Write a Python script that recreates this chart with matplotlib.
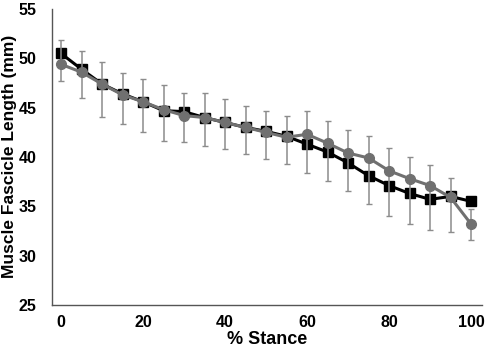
import numpy as np
import matplotlib
matplotlib.use("Agg")
import matplotlib.pyplot as plt

plt.rcParams["font.family"] = ["Liberation Sans", "DejaVu Sans"]

stance = [0, 5, 10, 15, 20, 25, 30, 35, 40, 45, 50, 55, 60, 65, 70, 75, 80, 85, 90, 95, 100]
black_series = [50.5, 48.9, 47.4, 46.4, 45.6, 44.7, 44.6, 44.0, 43.5, 43.0, 42.6, 42.1,
                41.3, 40.5, 39.4, 38.1, 37.1, 36.3, 35.7, 36.0, 35.5]
grey_series = [49.4, 48.6, 47.4, 46.3, 45.6, 44.8, 44.2, 44.0, 43.5, 43.0, 42.5, 42.0,
               42.3, 41.4, 40.4, 39.9, 38.6, 37.8, 37.1, 35.9, 33.2]
# error bar ends (top / bottom)
err_top = [51.9, 50.8, 49.6, 48.5, 47.9, 47.3, 46.5, 46.5, 45.9, 45.2, 44.7, 44.2,
           44.7, 43.6, 42.7, 42.1, 40.9, 40.0, 39.2, 37.9, 34.7]
err_bottom = [47.7, 46.0, 44.1, 43.3, 42.5, 41.6, 41.5, 41.1, 40.8, 40.3, 39.8, 39.3,
              38.4, 37.6, 36.5, 35.2, 34.0, 33.2, 32.6, 32.4, 31.6]

x = np.array(stance)
top = np.array(err_top)
bot = np.array(err_bottom)
mid = (top + bot) / 2
half = (top - bot) / 2

fig = plt.figure(figsize=(4.86, 3.5), dpi=100)
ax = fig.add_axes([0.107, 0.129, 0.885, 0.845])

ax.plot(x, black_series, color="black", lw=2.2, marker="s", ms=7, zorder=3)
ax.errorbar(x, mid, yerr=half, fmt="none", ecolor="#8c8c8c", elinewidth=1.1,
            capsize=2.5, capthick=1.0, zorder=4)
ax.plot(x, grey_series, color="#707070", lw=2.2, marker="o", ms=7, zorder=5)

ax.set_xlim(-2.2, 102.7)
ax.set_ylim(25, 55)
ax.set_xticks([0, 20, 40, 60, 80, 100])
ax.set_yticks([25, 30, 35, 40, 45, 50, 55])
ax.tick_params(length=0, labelsize=11.5)
ax.tick_params(axis="x", pad=7)
ax.tick_params(axis="y", pad=11)
for lab in ax.get_xticklabels() + ax.get_yticklabels():
    lab.set_fontweight("bold")

for s in ["top", "right"]:
    ax.spines[s].set_visible(False)
for s in ["left", "bottom"]:
    ax.spines[s].set_color("#555555")
    ax.spines[s].set_linewidth(1.0)

ax.set_xlabel("% Stance", fontsize=13, fontweight="bold", labelpad=1)
fig.text(10 / 486, 1 - 156 / 350, "Muscle Fascicle Length (mm)", rotation=90,
         ha="center", va="center", fontsize=12.5, fontweight="bold")

fig.savefig("out.png", dpi=100)
